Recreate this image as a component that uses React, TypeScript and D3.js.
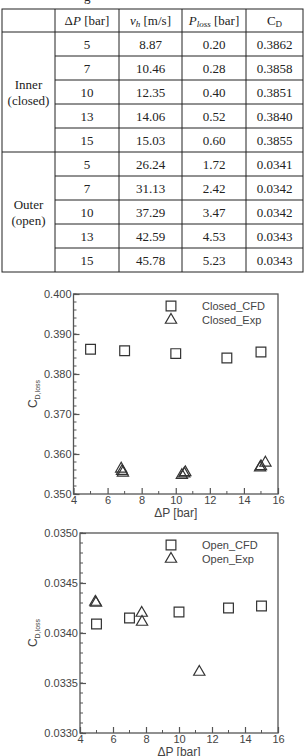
import React, { useEffect, useRef } from 'react';
import * as d3 from 'd3';

// table data
const groupLabels = [['Inner', '(closed)'], ['Outer', '(open)']];
const deltaP = ['5', '7', '10', '13', '15'];
const vhInner = ['8.87', '10.46', '12.35', '14.06', '15.03'];
const plossInner = ['0.20', '0.28', '0.40', '0.52', '0.60'];
const cdInner = ['0.3862', '0.3858', '0.3851', '0.3840', '0.3855'];
const vhOuter = ['26.24', '31.13', '37.29', '42.59', '45.78'];
const plossOuter = ['1.72', '2.42', '3.47', '4.53', '5.23'];
const cdOuter = ['0.0341', '0.0342', '0.0342', '0.0343', '0.0343'];

// chart data
const closedCfdX = [5, 7, 10, 13, 15];
const closedCfdY = [0.3862, 0.3858, 0.3851, 0.3840, 0.3855];
const closedExpX = [6.8, 6.85, 6.9, 10.36, 10.5, 10.56, 14.95, 15.0, 15.26];
const closedExpY = [0.3563, 0.3557, 0.3553, 0.3547, 0.3551, 0.3554, 0.3566, 0.3569, 0.3578];
const openCfdX = [5, 7, 10, 13, 15];
const openCfdY = [0.03409, 0.03415, 0.03421, 0.03425, 0.03427];
const openExpX = [4.93, 4.97, 7.74, 7.76, 11.23];
const openExpY = [0.03431, 0.03430, 0.03420, 0.03411, 0.03361];

const xTicks = [4, 6, 8, 10, 12, 14, 16];

const serif = '"Liberation Serif", "Times New Roman", serif';
const sans = '"Liberation Sans", Arial, sans-serif';

const colX = [2, 55, 119, 182, 246, 303];
const tableTop = 9;
const headerBottom = 32;
const rowH = 24;

const Table = () => {
  const rows = [
    { vh: vhInner, pl: plossInner, cd: cdInner },
    { vh: vhOuter, pl: plossOuter, cd: cdOuter },
  ];
  const cx = (i: number) => (colX[i] + colX[i + 1]) / 2;
  const lineColor = '#222';
  return (
    <g fontFamily={serif} fontSize={13} fill="#222">
      <text x={84} y={1} fontSize={13}>g</text>
      {/* outer frame */}
      <rect x={colX[0]} y={tableTop} width={colX[5] - colX[0]} height={headerBottom + rowH * 10 - tableTop}
        fill="none" stroke={lineColor} strokeWidth={1} />
      {colX.slice(1, 5).map((x, i) => (
        <line key={'c' + i} x1={x} x2={x} y1={tableTop} y2={headerBottom + rowH * 10} stroke={lineColor} />
      ))}
      <line x1={colX[0]} x2={colX[5]} y1={headerBottom} y2={headerBottom} stroke={lineColor} />
      {/* header */}
      <text x={cx(1)} y={25} textAnchor="middle">
        <tspan>Δ</tspan><tspan fontStyle="italic">P</tspan><tspan> [bar]</tspan>
      </text>
      <text x={cx(2)} y={25} textAnchor="middle">
        <tspan fontStyle="italic">v</tspan><tspan fontStyle="italic" fontSize={9} dy={2}>h</tspan><tspan dy={-2}> [m/s]</tspan>
      </text>
      <text x={cx(3)} y={25} textAnchor="middle">
        <tspan fontStyle="italic">P</tspan><tspan fontStyle="italic" fontSize={9} dy={2}>loss</tspan><tspan dy={-2}> [bar]</tspan>
      </text>
      <text x={cx(4)} y={25} textAnchor="middle">
        <tspan>C</tspan><tspan fontSize={9} dy={2}>D</tspan>
      </text>
      {rows.map((g, gi) => {
        const top = headerBottom + gi * rowH * 5;
        return (
          <g key={gi}>
            <text x={cx(0)} y={top + rowH * 2.5 - 3} textAnchor="middle">{groupLabels[gi][0]}</text>
            <text x={cx(0)} y={top + rowH * 2.5 + 13} textAnchor="middle">{groupLabels[gi][1]}</text>
            {gi === 1 && <line x1={colX[0]} x2={colX[5]} y1={top} y2={top} stroke={lineColor} />}
            {deltaP.map((p, r) => {
              const y = top + r * rowH;
              return (
                <g key={r}>
                  {r > 0 && <line x1={colX[1]} x2={colX[5]} y1={y} y2={y} stroke={lineColor} />}
                  <text x={cx(1)} y={y + 17} textAnchor="middle">{p}</text>
                  <text x={cx(2)} y={y + 17} textAnchor="middle">{g.vh[r]}</text>
                  <text x={cx(3)} y={y + 17} textAnchor="middle">{g.pl[r]}</text>
                  <text x={cx(4)} y={y + 17} textAnchor="middle">{g.cd[r]}</text>
                </g>
              );
            })}
          </g>
        );
      })}
    </g>
  );
};

type ChartProps = {
  left: number; right: number; top: number; bottom: number;
  yDomain: [number, number]; yMajor: number[]; yMinorStep: number; yFmt: string;
  cfdX: number[]; cfdY: number[]; expX: number[]; expY: number[];
  names: [string, string];
};

const Chart = (p: ChartProps) => {
  const ref = useRef<SVGGElement>(null);
  useEffect(() => {
    if (!ref.current) return;
    const g = d3.select(ref.current);
    g.selectAll('*').remove();
    const x = d3.scaleLinear().domain([4, 16]).range([p.left, p.right]);
    const y = d3.scaleLinear().domain(p.yDomain).range([p.bottom, p.top]);
    const axisColor = '#555';

    // minor ticks
    const yMinor = d3.range(p.yDomain[0], p.yDomain[1] + p.yMinorStep / 2, p.yMinorStep);
    g.append('g').selectAll('line').data(yMinor).enter().append('line')
      .attr('x1', p.left).attr('x2', p.left + 3)
      .attr('y1', d => y(d)).attr('y2', d => y(d))
      .attr('stroke', axisColor).attr('stroke-width', 1);
    g.append('g').selectAll('line').data(d3.range(5, 16, 2)).enter().append('line')
      .attr('x1', d => x(d)).attr('x2', d => x(d))
      .attr('y1', p.bottom).attr('y2', p.bottom - 3)
      .attr('stroke', axisColor).attr('stroke-width', 1);

    const yAxis = g.append('g').attr('transform', `translate(${p.left},0)`)
      .call(d3.axisLeft(y).tickValues(p.yMajor).tickFormat(d3.format(p.yFmt)).tickSize(-6).tickPadding(2));
    const xAxis = g.append('g').attr('transform', `translate(0,${p.bottom})`)
      .call(d3.axisBottom(x).tickValues(xTicks).tickSize(-6).tickPadding(2));
    [yAxis, xAxis].forEach(a => {
      a.select('.domain').remove();
      a.selectAll('line').attr('stroke', axisColor).attr('stroke-width', 1.2);
      a.selectAll('text').attr('fill', '#444').style('font-family', sans).style('font-size', '11px');
    });

    // frame
    g.append('rect').attr('x', p.left).attr('y', p.top)
      .attr('width', p.right - p.left).attr('height', p.bottom - p.top)
      .attr('fill', 'none').attr('stroke', axisColor).attr('stroke-width', 1.3);

    const sq = d3.symbol().type(d3.symbolSquare).size(95);
    const tri = d3.symbol().type(d3.symbolTriangle).size(55);
    const mk = '#333';

    g.append('g').selectAll('path').data(p.cfdX.map((v, i) => [v, p.cfdY[i]])).enter().append('path')
      .attr('d', sq()).attr('transform', d => `translate(${x(d[0])},${y(d[1])})`)
      .attr('fill', 'none').attr('stroke', mk).attr('stroke-width', 1.2);
    g.append('g').selectAll('path').data(p.expX.map((v, i) => [v, p.expY[i]])).enter().append('path')
      .attr('d', tri()).attr('transform', d => `translate(${x(d[0])},${y(d[1])})`)
      .attr('fill', 'none').attr('stroke', mk).attr('stroke-width', 1.2);

    // legend
    const lg = g.append('g');
    lg.append('path').attr('d', sq()).attr('transform', `translate(171,${p.top + 12})`)
      .attr('fill', 'none').attr('stroke', mk).attr('stroke-width', 1.2);
    lg.append('path').attr('d', tri()).attr('transform', `translate(171,${p.top + 26})`)
      .attr('fill', 'none').attr('stroke', mk).attr('stroke-width', 1.2);
    p.names.forEach((n, i) => {
      lg.append('text').attr('x', 202).attr('y', p.top + 12 + i * 14).attr('dy', '0.35em')
        .style('font-family', sans).style('font-size', '11px').attr('fill', '#444').text(n);
    });

    // axis titles
    g.append('text').attr('x', (p.left + p.right) / 2).attr('y', p.bottom + 23)
      .attr('text-anchor', 'middle').style('font-family', sans).style('font-size', '12px')
      .attr('fill', '#444').text('ΔP [bar]');
    const yl = g.append('text')
      .attr('transform', `translate(37,${(p.top + p.bottom) / 2}) rotate(-90)`)
      .attr('text-anchor', 'middle').style('font-family', sans).style('font-size', '12px').attr('fill', '#444');
    yl.append('tspan').text('C');
    yl.append('tspan').attr('dy', 3).style('font-size', '7px').text('D,loss');
  }, [p]);
  return <g ref={ref} />;
};

const App = () => (
  <svg width={305} height={756} style={{ position: 'absolute', left: 0, top: 0, background: '#fff' }}>
    <rect width={305} height={756} fill="#fff" />
    <Table />
    <Chart left={73.5} right={278} top={294} bottom={494}
      yDomain={[0.35, 0.4]} yMajor={[0.35, 0.36, 0.37, 0.38, 0.39, 0.4]} yMinorStep={0.002} yFmt=".3f"
      cfdX={closedCfdX} cfdY={closedCfdY} expX={closedExpX} expY={closedExpY}
      names={['Closed_CFD', 'Closed_Exp']} />
    <Chart left={80} right={278} top={533} bottom={733}
      yDomain={[0.033, 0.035]} yMajor={[0.033, 0.0335, 0.034, 0.0345, 0.035]} yMinorStep={0.0001} yFmt=".4f"
      cfdX={openCfdX} cfdY={openCfdY} expX={openExpX} expY={openExpY}
      names={['Open_CFD', 'Open_Exp']} />
  </svg>
);

export default App;
